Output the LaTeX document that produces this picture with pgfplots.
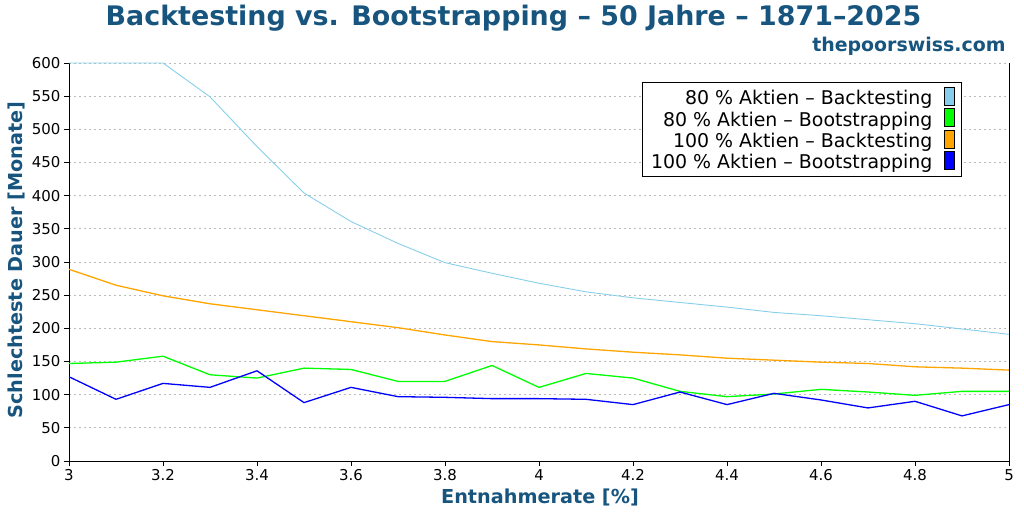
\documentclass[border=0pt]{standalone}
\usepackage{pgfplots}
\pgfplotsset{compat=1.18}
\usepackage{fontspec}
\setmainfont{DejaVu Sans}
\definecolor{titleblue}{HTML}{17557F}
\definecolor{skyb}{HTML}{87CEEB}
\definecolor{limeg}{HTML}{00FF00}
\definecolor{orng}{HTML}{FFA500}
\definecolor{blu}{HTML}{0000FF}
\definecolor{gridgray}{HTML}{BBBBBB}

\pgfplotstableread{
x    bt80 bs80 bt100 bs100
3.0  600  147  289   127
3.1  600  149  265   93
3.2  600  158  249   117
3.3  549  130  237   111
3.4  474  125  228   136
3.5  404  140  219   88
3.6  361  138  210   111
3.7  328  120  201   97
3.8  299  120  190   96
3.9  283  144  180   94
4.0  268  111  175   94
4.1  255  132  169   93
4.2  246  125  164   85
4.3  239  105  160   104
4.4  232  97   155   85
4.5  224  101  152   102
4.6  219  108  149   92
4.7  213  104  147   80
4.8  207  99   142   90
4.9  199  105  140   68
5.0  191  105  137   85
}\datatable

\newcommand{\legbox}[1]{\path (0bp,0bp); \draw[black, fill=#1, line width=0.8bp] (9bp,-7bp) rectangle (19bp,11bp);}

\begin{document}
\begin{tikzpicture}
\begin{axis}[
    name=ax,
    scale only axis,
    width=940bp, height=398bp,
    xmin=3, xmax=5, ymin=0, ymax=600,
    xtick={3,3.2,...,5},
    ytick={0,50,...,600},
    axis x line*=bottom,
    axis y line*=left,
    axis line style={black, line width=0.9bp, -},
    tick align=outside,
    major tick length=5bp,
    tick style={black, line width=0.9bp},
    ymajorgrids=true,
    grid style={gridgray, line width=0.8bp, dash pattern=on 2bp off 3bp},
    tick label style={font=\fontsize{15}{18}\selectfont, black},
    /pgf/number format/assume math mode=true,
    legend style={at={(0.950,0.952)}, anchor=north east, draw=black,
        line width=0.9bp, font=\fontsize{19}{20}\selectfont,
        row sep=0bp, inner xsep=7bp, inner ysep=4.5bp},
    legend cell align=right,
    legend plot pos=right,
]
\addplot[skyb, line width=0.9bp, legend image code/.code={\legbox{skyb}}] table[x=x, y=bt80] {\datatable};
\addlegendentry{80 \% Aktien – Backtesting}
\addplot[limeg, line width=1.3bp, legend image code/.code={\legbox{limeg}}] table[x=x, y=bs80] {\datatable};
\addlegendentry{80 \% Aktien – Bootstrapping}
\addplot[orng, line width=1.3bp, legend image code/.code={\legbox{orng}}] table[x=x, y=bt100] {\datatable};
\addlegendentry{100 \% Aktien – Backtesting}
\addplot[blu, line width=1.3bp, legend image code/.code={\legbox{blu}}] table[x=x, y=bs100] {\datatable};
\addlegendentry{100 \% Aktien – Bootstrapping}
\end{axis}
\draw[black, line width=0.9bp] (ax.south east) -- (ax.north east);
\node[titleblue, font=\fontsize{27}{32}\selectfont\bfseries] at (444.5bp,443bp) {Backtesting vs. Bootstrapping – 50 Jahre – 1871–2025};
\node[titleblue, font=\fontsize{19}{23}\selectfont\bfseries, anchor=east] at (940bp,415bp) {thepoorswiss.com};
\node[titleblue, font=\fontsize{19.3}{23}\selectfont\bfseries] at (471bp,-36bp) {Entnahmerate [\%]};
\node[titleblue, font=\fontsize{19.3}{23}\selectfont\bfseries, rotate=90] at (-53bp,201bp) {Schlechteste Dauer [Monate]};
\pgfresetboundingbox
\path[use as bounding box] (-69bp,-51bp) rectangle (955bp,461bp);
\end{tikzpicture}
\end{document}
